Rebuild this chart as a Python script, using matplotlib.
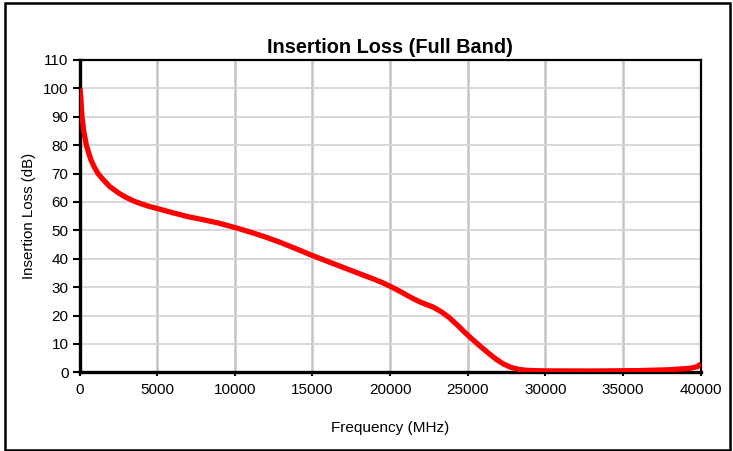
import matplotlib.pyplot as plt
from matplotlib.patches import Rectangle

plt.rcParams['font.family'] = ['Liberation Sans', 'DejaVu Sans']

freq_mhz = [30, 80, 160, 270, 440, 720, 950, 1190, 1500, 1950, 2500, 3000,
            3500, 4000, 4500, 5000, 6000, 7000, 8000, 9000, 10000, 11000, 12000,
            13000, 14000, 15000, 16000, 17000, 18000, 19000, 19500, 20000, 20500,
            21000, 21500, 22000, 22800, 23300, 23800, 24300, 24800, 25300, 25800,
            26300, 26800, 27300, 27800, 28300, 28800, 29500, 30000, 33000, 36000,
            38000, 39300, 39800, 40000]
loss_db = [100, 97, 90, 85, 80, 75, 72.3, 70, 68, 65.4, 63.2, 61.6,
           60.3, 59.3, 58.4, 57.7, 56.2, 54.8, 53.7, 52.5, 51.0, 49.4, 47.6,
           45.6, 43.4, 41.1, 39.0, 36.9, 34.8, 32.7, 31.6, 30.3, 28.9,
           27.4, 25.9, 24.6, 22.9, 21.3, 19.3, 16.8, 14.1, 11.6, 9.2,
           6.9, 4.7, 2.9, 1.7, 1.0, 0.7, 0.55, 0.5, 0.45, 0.6,
           0.9, 1.4, 2.0, 3.0]

x_ticks = list(range(0, 40001, 5000))
y_ticks = list(range(0, 111, 10))

fig = plt.figure(figsize=(7.33, 4.51), dpi=100)
ax = fig.add_axes([0.1085, 0.1745, 0.8475, 0.6925])

# outer frame round the whole chart
fig.patches.append(Rectangle((5 / 733, 1 / 451), 725 / 733, 447 / 451,
                             transform=fig.transFigure, fill=False,
                             edgecolor='black', linewidth=1.8))

ax.plot(freq_mhz, loss_db, color='#ff0000', linewidth=3.8, solid_capstyle='butt',
        solid_joinstyle='round', zorder=3)

ax.set_xlim(0, 40000)
ax.set_ylim(0, 110)
ax.set_xticks(x_ticks)
ax.set_yticks(y_ticks)

ax.grid(axis='x', color='#c4c4c4', linewidth=1.8)
ax.grid(axis='y', color='#d6d6d6', linewidth=1.3)
ax.set_axisbelow(True)

for side in ['left', 'bottom']:
    ax.spines[side].set_linewidth(2.4)
for side in ['top', 'right']:
    ax.spines[side].set_linewidth(1.6)

ax.tick_params(axis='y', direction='out', length=5, width=1.5, labelsize=11, pad=3)
ax.tick_params(axis='x', direction='out', length=3, width=1.5, labelsize=11, pad=5)

ax.set_title('Insertion Loss (Full Band)', fontsize=14.3, fontweight='bold', pad=5)
ax.set_xlabel('Frequency (MHz)', fontsize=11, labelpad=17)
ax.set_ylabel('Insertion Loss (dB)', fontsize=10.8, labelpad=5)

fig.savefig('out.png', dpi=100)
